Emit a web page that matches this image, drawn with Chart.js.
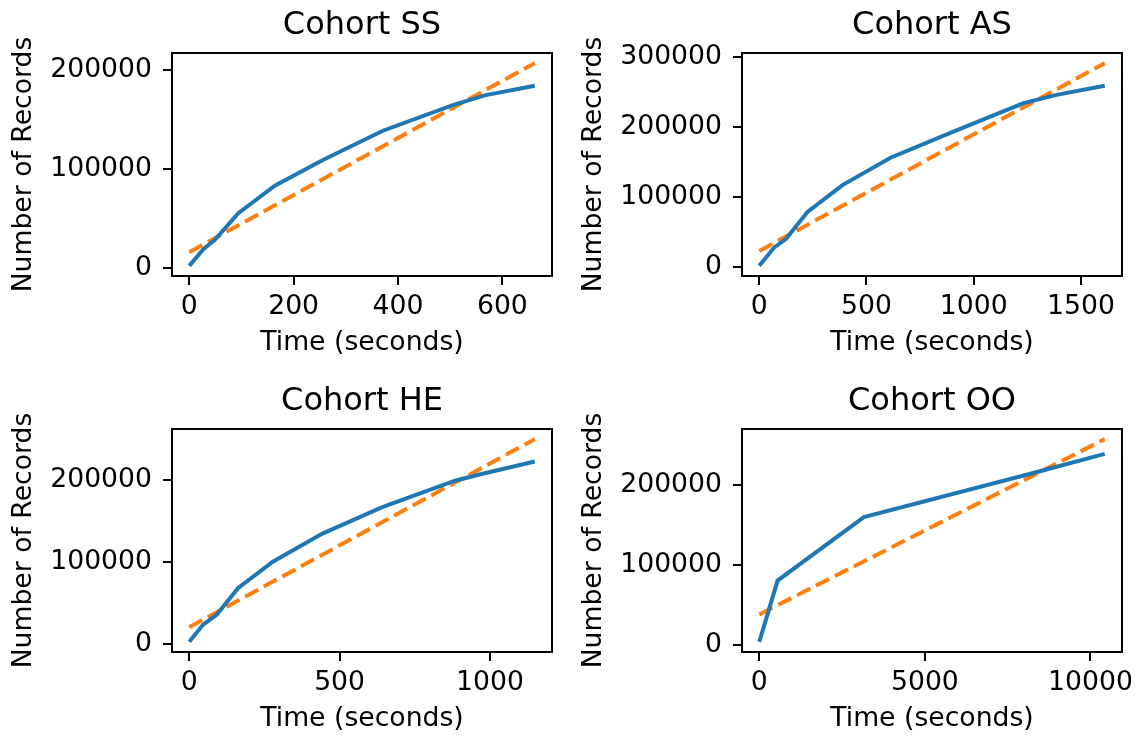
<!DOCTYPE html>
<html lang="en">
<head>
    <meta charset="UTF-8">
    <title>Cohort record counts over time</title>
    <script src="https://cdn.jsdelivr.net/npm/chart.js"></script>
    <style>
        body {
            margin: 0;
            background: #fff;
            width: 1142px;
            height: 738px;
            position: relative;
            overflow: hidden;
        }
        .panel {
            position: absolute;
            height: 362px;
        }
    </style>
</head>
<body>
    <div class="panel" style="left:0;top:0;width:570px;"><canvas id="ssChart"></canvas></div>
    <div class="panel" style="left:570px;top:0;width:572px;"><canvas id="asChart"></canvas></div>
    <div class="panel" style="left:0;top:376px;width:570px;"><canvas id="heChart"></canvas></div>
    <div class="panel" style="left:570px;top:376px;width:572px;"><canvas id="ooChart"></canvas></div>

    <script>
        // Cohort SS
        const ssTime = [0, 27, 49, 94, 164, 256, 371, 505, 568, 662];
        const ssRecords = [2000, 18800, 28200, 55100, 82900, 108800, 138300, 164100, 174200, 183600];
        const ssFitTime = [0, 662];
        const ssFitRecords = [15800, 206500];
        const ssXTicks = [0, 200, 400, 600];
        const ssYTicks = [0, 100000, 200000];

        // Cohort AS
        const asTime = [0, 70, 124, 225, 388, 612, 891, 1232, 1387, 1611];
        const asRecords = [1500, 28000, 39900, 78800, 117200, 156300, 191900, 234600, 246400, 259300];
        const asFitTime = [0, 1611];
        const asFitRecords = [22800, 291800];
        const asXTicks = [0, 500, 1000, 1500];
        const asYTicks = [0, 100000, 200000, 300000];

        // Cohort HE
        const heTime = [0, 46, 91, 162, 278, 443, 642, 884, 972, 1149];
        const heRecords = [2400, 23500, 35600, 68000, 100500, 134900, 167300, 199600, 207800, 223200];
        const heFitTime = [0, 1149];
        const heFitRecords = [20400, 250500];
        const heXTicks = [0, 500, 1000];
        const heYTicks = [0, 100000, 200000];

        // Cohort OO
        const ooTime = [0, 553, 3159, 8475, 10430];
        const ooRecords = [3700, 80300, 159500, 216900, 238600];
        const ooFitTime = [0, 10430];
        const ooFitRecords = [38000, 257000];
        const ooXTicks = [0, 5000, 10000];
        const ooYTicks = [0, 100000, 200000];

        Chart.defaults.font.family = "'DejaVu Sans', sans-serif";
        Chart.defaults.color = '#000';

        const toPoints = (xs, ys) => xs.map((x, i) => ({x: x, y: ys[i]}));

        // matplotlib style 5% margins
        function padded(values) {
            const lo = Math.min(...values), hi = Math.max(...values);
            const m = (hi - lo) * 0.05;
            return [lo - m, hi + m];
        }

        const frame = {
            id: 'frame',
            afterDatasetsDraw(chart) {
                const {ctx, chartArea: a} = chart;
                ctx.save();
                ctx.strokeStyle = '#000';
                ctx.lineWidth = 2;
                ctx.strokeRect(a.left, a.top, a.right - a.left, a.bottom - a.top);
                ctx.restore();
            }
        };

        function makeChart(id, title, time, records, fitTime, fitRecords, xTicks, yTicks, padRight) {
            const [xMin, xMax] = padded(time.concat(fitTime));
            const [yMin, yMax] = padded(records.concat(fitRecords));
            return new Chart(document.getElementById(id), {
                type: 'line',
                data: {
                    datasets: [
                        {
                            data: toPoints(time, records),
                            borderColor: '#1f77b4',
                            borderWidth: 4,
                            pointRadius: 0,
                            tension: 0
                        },
                        {
                            data: toPoints(fitTime, fitRecords),
                            borderColor: '#ff7f0e',
                            borderWidth: 4,
                            borderDash: [14.8, 6.4],
                            pointRadius: 0
                        }
                    ]
                },
                options: {
                    responsive: true,
                    maintainAspectRatio: false,
                    animation: false,
                    events: [],
                    layout: { padding: { left: 0, top: 0, right: padRight, bottom: 0 } },
                    plugins: {
                        legend: { display: false },
                        tooltip: { enabled: false },
                        title: {
                            display: true,
                            text: title,
                            fullSize: false,
                            color: '#000',
                            font: { size: 32, weight: 'normal', lineHeight: 1.2 },
                            padding: { top: 6.8, bottom: 7.8 }
                        }
                    },
                    scales: {
                        x: {
                            type: 'linear',
                            min: xMin,
                            max: xMax,
                            afterBuildTicks: s => { s.ticks = xTicks.map(v => ({value: v})); },
                            afterFit: s => { s.height = 86; },
                            border: { display: false },
                            grid: { drawOnChartArea: false, drawTicks: true, tickLength: 9, color: '#000', lineWidth: 2 },
                            ticks: {
                                font: { size: 26.67 },
                                padding: 6.5,
                                maxRotation: 0,
                                callback: v => String(v)
                            },
                            title: {
                                display: true,
                                text: 'Time (seconds)',
                                font: { size: 26.67, lineHeight: 1.2 },
                                padding: { top: 0, bottom: 2.5 }
                            }
                        },
                        y: {
                            type: 'linear',
                            min: yMin,
                            max: yMax,
                            afterBuildTicks: s => { s.ticks = yTicks.map(v => ({value: v})); },
                            afterFit: s => { s.width = 172; },
                            border: { display: false },
                            grid: { drawOnChartArea: false, drawTicks: true, tickLength: 9, color: '#000', lineWidth: 2 },
                            ticks: {
                                font: { size: 26.67 },
                                padding: 11,
                                callback: v => String(v)
                            },
                            title: {
                                display: true,
                                text: 'Number of Records',
                                font: { size: 26.67, lineHeight: 1.2 },
                                padding: { top: 7.8, bottom: 0 }
                            }
                        }
                    }
                },
                plugins: [frame]
            });
        }

        makeChart('ssChart', 'Cohort SS', ssTime, ssRecords, ssFitTime, ssFitRecords, ssXTicks, ssYTicks, 18);
        makeChart('asChart', 'Cohort AS', asTime, asRecords, asFitTime, asFitRecords, asXTicks, asYTicks, 20);
        makeChart('heChart', 'Cohort HE', heTime, heRecords, heFitTime, heFitRecords, heXTicks, heYTicks, 18);
        makeChart('ooChart', 'Cohort OO', ooTime, ooRecords, ooFitTime, ooFitRecords, ooXTicks, ooYTicks, 20);
    </script>
</body>
</html>
